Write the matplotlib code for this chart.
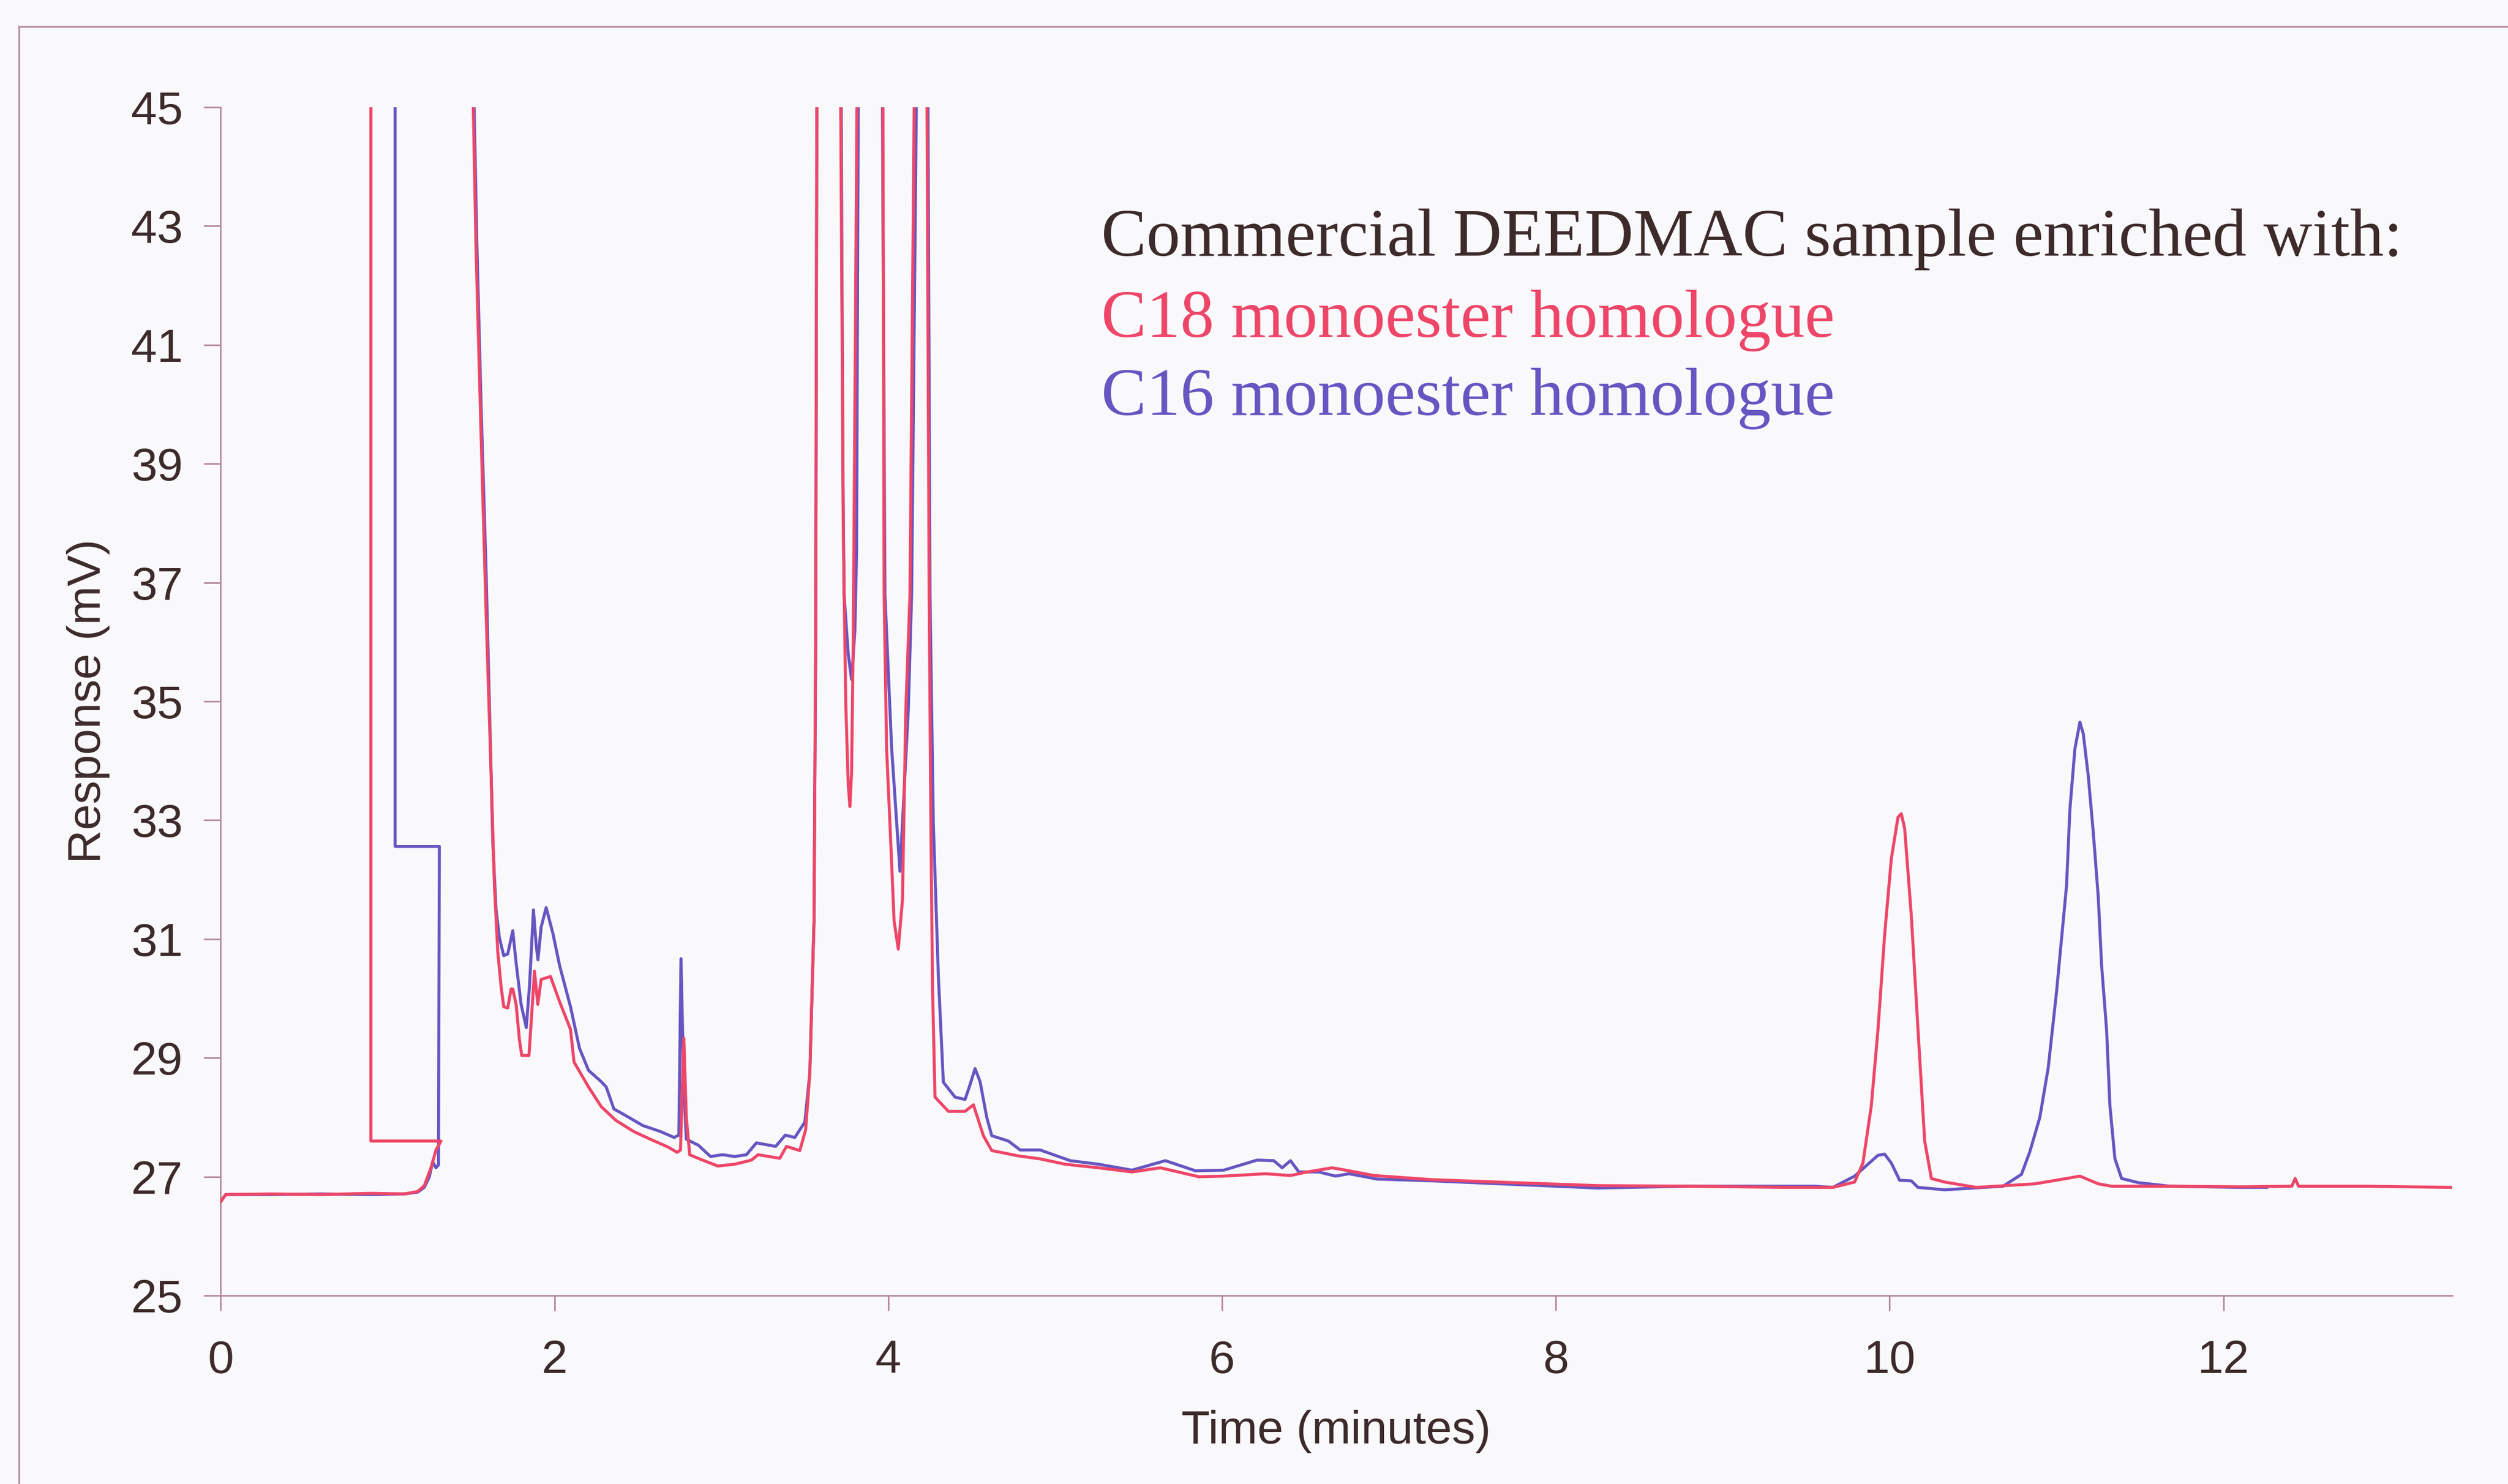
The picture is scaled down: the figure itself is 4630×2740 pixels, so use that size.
import matplotlib
matplotlib.use("Agg")
import matplotlib.pyplot as plt
from matplotlib.lines import Line2D

# chromatogram traces (values above 45 are off-scale peak tops)
time_c18 = [0.00, 0.03, 0.30, 0.60, 0.90, 1.10, 1.18, 1.22, 1.26, 1.29, 1.32,
            0.90, 0.90, 1.50, 1.51, 1.53, 1.56, 1.59, 1.62, 1.64, 1.66, 1.68,
            1.696, 1.72, 1.74, 1.75, 1.77, 1.79, 1.804, 1.847, 1.865, 1.88, 1.90,
            1.92, 1.976, 2.03, 2.096, 2.117, 2.204, 2.28, 2.367, 2.475, 2.583,
            2.68, 2.735, 2.755, 2.775, 2.79, 2.81, 2.86, 2.978, 3.08, 3.18, 3.22,
            3.35, 3.39, 3.47, 3.505, 3.53, 3.555, 3.565, 3.572, 3.61, 3.69, 3.715,
            3.73, 3.745, 3.76, 3.77, 3.78, 3.79, 3.80, 3.812, 3.86, 3.94, 3.968,
            3.975, 3.99, 4.01, 4.035, 4.06, 4.085, 4.105, 4.13, 4.155, 4.19, 4.215,
            4.232, 4.245, 4.255, 4.265, 4.28, 4.36, 4.46, 4.51, 4.57, 4.62, 4.78,
            4.91, 5.06, 5.26, 5.46, 5.63, 5.86, 6.01, 6.26, 6.41, 6.51, 6.66, 6.76,
            6.91, 7.26, 7.75, 8.25, 8.80, 9.39, 9.66, 9.79, 9.84, 9.89, 9.93, 9.97,
            10.01, 10.05, 10.07, 10.09, 10.13, 10.17, 10.21, 10.25, 10.33, 10.52,
            10.87, 11.06, 11.14, 11.25, 11.33, 11.68, 12.10, 12.41, 12.43, 12.45,
            12.86, 13.10, 13.37]
resp_c18 = [26.58, 26.70, 26.71, 26.70, 26.72, 26.71, 26.75, 26.85, 27.15, 27.45, 27.60,
            27.60, 60, 60, 45.5, 42.6, 39.5, 36.5, 33.8, 31.9, 30.79, 30.2,
            29.86, 29.84, 30.16, 30.16, 29.90, 29.3, 29.04, 29.04, 29.8, 30.46, 29.90,
            30.32, 30.37, 29.95, 29.48, 28.93, 28.51, 28.18, 27.95, 27.76, 27.62,
            27.50, 27.41, 27.45, 29.33, 28.0, 27.37, 27.31, 27.18, 27.21, 27.28, 27.37,
            27.31, 27.51, 27.44, 27.79, 28.75, 31.3, 36.0, 45.0, 60, 60, 45,
            38, 35.0, 33.6, 33.23, 33.8, 36.0, 40.0, 45, 60, 60, 45,
            36.8, 34.2, 32.94, 31.3, 30.83, 31.66, 34.86, 36.8, 45, 60, 60,
            45, 36.8, 33.0, 30.2, 28.34, 28.10, 28.10, 28.21, 27.69, 27.44, 27.35,
            27.30, 27.21, 27.15, 27.08, 27.15, 27.00, 27.01, 27.05, 27.02, 27.08, 27.15, 27.10,
            27.02, 26.95, 26.90, 26.85, 26.84, 26.82, 26.82, 26.91, 27.23, 28.19, 29.47, 31.07,
            32.35, 33.05, 33.11, 32.86, 31.39, 29.47, 27.60, 26.97, 26.91, 26.82,
            26.88, 26.97, 27.01, 26.88, 26.84, 26.84, 26.83, 26.84, 26.97, 26.84,
            26.84, 26.83, 26.82]

time_c16 = [0.00, 0.03, 0.30, 0.60, 0.90, 1.10, 1.18, 1.22, 1.25, 1.27, 1.29, 1.305,
            1.31, 1.045, 1.045, 1.51, 1.515, 1.535, 1.56, 1.59, 1.615, 1.63, 1.65,
            1.67, 1.696, 1.72, 1.75, 1.77, 1.80, 1.831, 1.85, 1.874, 1.89, 1.901,
            1.92, 1.95, 1.99, 2.031, 2.096, 2.15, 2.204, 2.28, 2.31, 2.356, 2.42,
            2.53, 2.636, 2.717, 2.745, 2.758, 2.775, 2.79, 2.862, 2.935, 3.007, 3.08,
            3.15, 3.21, 3.325, 3.383, 3.44, 3.50, 3.53, 3.555, 3.565, 3.572, 3.61,
            3.69, 3.718, 3.728, 3.735, 3.76, 3.78, 3.80, 3.81, 3.82, 3.87, 3.93,
            3.965, 3.98, 4.02, 4.07, 4.12, 4.14, 4.168, 4.19, 4.22, 4.238, 4.25,
            4.27, 4.30, 4.33, 4.40, 4.46, 4.49, 4.52, 4.55, 4.59, 4.62, 4.72, 4.79,
            4.91, 5.09, 5.26, 5.46, 5.66, 5.84, 6.01, 6.21, 6.31, 6.36, 6.41, 6.46,
            6.58, 6.68, 6.76, 6.93, 7.26, 7.75, 8.25, 8.80, 9.39, 9.55, 9.66, 9.79,
            9.93, 9.97, 10.01, 10.06, 10.13, 10.17, 10.33, 10.68, 10.79, 10.84, 10.90,
            10.95, 11.00, 11.06, 11.08, 11.11, 11.14, 11.16, 11.19, 11.22, 11.25,
            11.27, 11.30, 11.32, 11.35, 11.39, 11.49, 11.68, 12.10, 12.26]
resp_c16 = [26.58, 26.70, 26.70, 26.71, 26.70, 26.71, 26.74, 26.82, 27.0, 27.25, 27.15, 27.2,
            32.56, 32.56, 60, 60, 45.5, 42.7, 40.0, 37.2, 34.4, 32.65, 31.49,
            31.02, 30.72, 30.75, 31.14, 30.6, 29.9, 29.51, 30.2, 31.49, 30.9, 30.65,
            31.2, 31.53, 31.1, 30.55, 29.86, 29.16, 28.79, 28.60, 28.51, 28.14, 28.04,
            27.86, 27.76, 27.66, 27.7, 30.67, 28.5, 27.63, 27.53, 27.34, 27.37, 27.34,
            27.37, 27.57, 27.51, 27.70, 27.66, 27.92, 28.75, 31.3, 36.0, 45, 60,
            60, 45, 39.0, 36.8, 35.8, 35.37, 36.2, 37.5, 45, 60, 60,
            45, 36.8, 34.22, 32.14, 34.86, 36.8, 45, 60, 60, 45, 36.8,
            32.94, 30.38, 28.59, 28.34, 28.30, 28.55, 28.82, 28.6, 28.0, 27.69, 27.60, 27.45,
            27.45, 27.27, 27.21, 27.11, 27.27, 27.10, 27.11, 27.28, 27.27, 27.15, 27.27, 27.08,
            27.08, 27.01, 27.05, 26.96, 26.93, 26.87, 26.81, 26.84, 26.84, 26.84, 26.82, 27.01,
            27.36, 27.38, 27.23, 26.94, 26.93, 26.82, 26.78, 26.84, 27.04, 27.42, 28.0,
            28.83, 30.11, 31.9, 33.18, 34.2, 34.65, 34.46, 33.75, 32.8, 31.71,
            30.56, 29.47, 28.19, 27.3, 26.97, 26.90, 26.84, 26.82, 26.82]

x_ticks = [0, 2, 4, 6, 8, 10, 12]
y_ticks = [25, 27, 29, 31, 33, 35, 37, 39, 41, 43, 45]

header = "Commercial DEEDMAC sample enriched with:"
label_c18 = "C18 monoester homologue"
label_c16 = "C16 monoester homologue"

bg = "#f9f9fc"
red = "#ee4668"
blue = "#6656c2"
ink = "#3d2a2a"
axis_col = "#b88c9c"

fig = plt.figure(figsize=(23.15, 13.7), dpi=200, facecolor=bg)
ax = fig.add_axes([0.0880, 0.1270, 0.8897, 0.8007], facecolor=bg)

ax.plot(time_c18, resp_c18, color=red, lw=2.0, zorder=3, solid_joinstyle="round")
ax.plot(time_c16, resp_c16, color=blue, lw=2.0, zorder=2, solid_joinstyle="round")

ax.set_xlim(0, 13.37)
ax.set_ylim(25, 45)
ax.set_xticks(x_ticks)
ax.set_yticks(y_ticks)

for side in ["top", "right"]:
    ax.spines[side].set_visible(False)
for side in ["left", "bottom"]:
    ax.spines[side].set_color(axis_col)
    ax.spines[side].set_linewidth(1.1)

ax.tick_params(axis="y", direction="out", length=11, width=1.1, color=axis_col,
               pad=14, labelsize=31, labelcolor=ink)
ax.tick_params(axis="x", direction="out", length=10, width=1.1, color=axis_col,
               pad=19, labelsize=31, labelcolor=ink)
for lab in ax.get_xticklabels() + ax.get_yticklabels():
    lab.set_fontfamily("Liberation Sans")

ax.set_xlabel("Time (minutes)", fontsize=31, color=ink, family="Liberation Sans", labelpad=18)
ax.set_ylabel("Response (mV)", fontsize=31, color=ink, family="Liberation Sans", labelpad=14)

# legend-like annotation in serif type
fig.text(0.439, 0.8277, header, fontsize=45, color=ink, family="Liberation Serif", va="baseline")
fig.text(0.439, 0.7730, label_c18, fontsize=45, color=red, family="Liberation Serif", va="baseline")
fig.text(0.439, 0.7204, label_c16, fontsize=45, color=blue, family="Liberation Serif", va="baseline")

# thin frame of the scanned figure (top and left edges visible)
fig.add_artist(Line2D([0.0076, 1.0], [0.982, 0.982], transform=fig.transFigure,
                      color=axis_col, lw=1.2))
fig.add_artist(Line2D([0.0076, 0.0076], [0.0, 0.982], transform=fig.transFigure,
                      color=axis_col, lw=1.2))

fig.savefig("out.png", dpi=200, facecolor=bg)
